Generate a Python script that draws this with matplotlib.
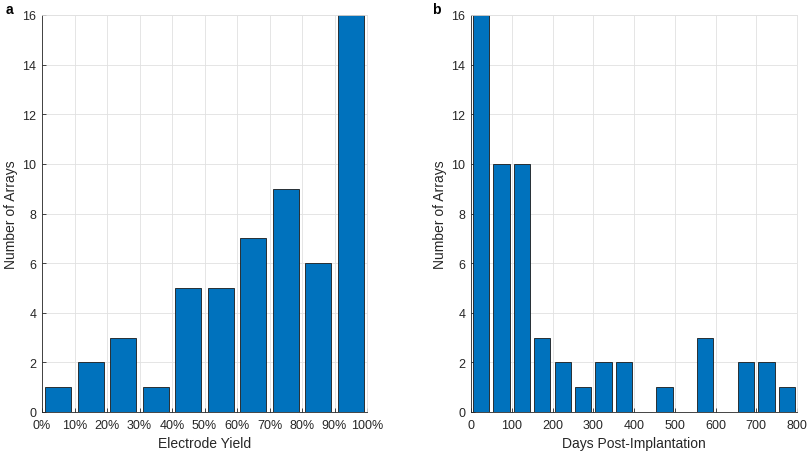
import matplotlib.pyplot as plt
import numpy as np

plt.rcParams['font.family'] = ['Liberation Sans', 'DejaVu Sans']

# Panel a: electrode yield histogram (bins of 10%)
yield_edges = np.arange(0, 101, 10)
yield_counts = [1, 2, 3, 1, 5, 5, 7, 9, 6, 16]
yield_ticks = [f"{v}%" for v in yield_edges]

# Panel b: days post-implantation (bins of 50 days)
day_edges = np.arange(0, 801, 50)
day_counts = [16, 10, 10, 3, 2, 1, 2, 2, 0, 1, 0, 3, 0, 2, 2, 1]
day_ticks = np.arange(0, 801, 100)

BLUE = '#0072BD'
AX_COL = '#262626'

fig = plt.figure(figsize=(8.1, 4.56), dpi=100)
ax1 = fig.add_axes([42 / 810, 1 - 413 / 456, 325 / 810, 397 / 456])
ax2 = fig.add_axes([471 / 810, 1 - 413 / 456, 326 / 810, 397 / 456])


def style(ax):
    ax.set_ylim(0, 16)
    ax.set_yticks(np.arange(0, 17, 2))
    ax.grid(True, color='#e1e1e1', linewidth=0.6)
    ax.set_axisbelow(True)
    for s in ['top', 'right']:
        ax.spines[s].set_color('#e1e1e1')
        ax.spines[s].set_linewidth(0.6)
    for s in ['left', 'bottom']:
        ax.spines[s].set_color(AX_COL)
        ax.spines[s].set_linewidth(0.6)
    ax.tick_params(direction='in', length=3, width=0.6, color=AX_COL,
                   labelsize=9, labelcolor=AX_COL)
    ax.tick_params(axis='x', pad=5)
    ax.tick_params(axis='y', pad=4)
    ax.set_ylabel('Number of Arrays', fontsize=10, color=AX_COL, labelpad=3)


centers_a = (yield_edges[:-1] + yield_edges[1:]) / 2
ax1.bar(centers_a, yield_counts, width=8, color=BLUE, edgecolor='#1a1a1a', linewidth=0.6)
ax1.set_xlim(0, 100)
ax1.set_xticks(yield_edges)
ax1.set_xticklabels(yield_ticks)
style(ax1)
ax1.set_xlabel('Electrode Yield', fontsize=10, color=AX_COL, labelpad=4)

centers_b = (day_edges[:-1] + day_edges[1:]) / 2
ax2.bar(centers_b, day_counts, width=40, color=BLUE, edgecolor='#1a1a1a', linewidth=0.6)
ax2.set_xlim(0, 800)
ax2.set_xticks(day_ticks)
style(ax2)
ax2.set_xlabel('Days Post-Implantation', fontsize=10, color=AX_COL, labelpad=4)

fig.text(6 / 810, 1 - 10 / 456, 'a', fontsize=10, fontweight='bold', va='center')
fig.text(432 / 810, 1 - 10 / 456, 'b', fontsize=10, fontweight='bold', va='center')

fig.savefig('out.png', dpi=100)
